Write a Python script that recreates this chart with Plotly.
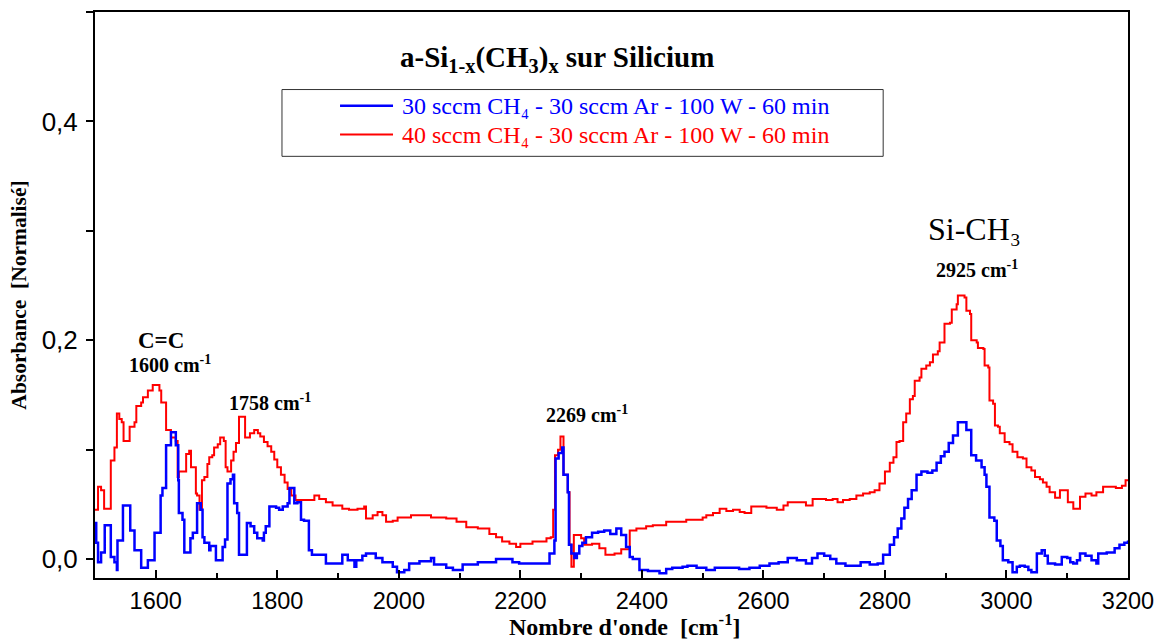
import plotly.graph_objects as go

# ---------------- data ----------------
blue_wn = [1500, 1502, 1505, 1510, 1516, 1526, 1532, 1536, 1537, 1546,
           1558, 1565, 1576, 1587, 1598, 1608, 1611, 1617, 1625, 1633,
           1637, 1638, 1644, 1647, 1657, 1661, 1668, 1674, 1677, 1680,
           1688, 1690, 1699, 1710, 1714, 1718, 1723, 1727, 1729, 1734,
           1737, 1750, 1756, 1762, 1767, 1776, 1778, 1781, 1787, 1798,
           1803, 1809, 1817, 1820, 1828, 1833, 1839, 1844, 1852, 1857,
           1880, 1891, 1907, 1916, 1927, 1930, 1940, 1946, 1962, 1973,
           1990, 1997, 2009, 2017, 2034, 2053, 2058, 2078, 2089, 2105,
           2130, 2160, 2187, 2198, 2243, 2248, 2256, 2258, 2263, 2269,
           2271, 2278, 2280, 2284, 2289, 2293, 2297, 2302, 2308, 2318,
           2328, 2338, 2348, 2358, 2366, 2374, 2380, 2385, 2396, 2410,
           2429, 2440, 2450, 2467, 2475, 2490, 2506, 2520, 2545, 2560,
           2577, 2594, 2610, 2625, 2640, 2655, 2670, 2680, 2689, 2700,
           2710, 2720, 2735, 2750, 2760, 2775, 2788, 2797, 2808, 2815,
           2821, 2827, 2832, 2838, 2844, 2852, 2860, 2870, 2878, 2885,
           2892, 2898, 2905, 2912, 2920, 2934, 2942, 2950, 2959, 2964,
           2967, 2972, 2980, 2984, 2990, 2994, 3003, 3010, 3017, 3022,
           3030, 3036, 3041, 3050, 3058, 3063, 3068, 3080, 3091, 3100,
           3105, 3110, 3116, 3121, 3130, 3140, 3148, 3151, 3165, 3178,
           3186, 3194, 3200]
blue_abs = [0.033, 0.015, -0.003, 0.006, 0.031, 0.002, -0.003, -0.010, 0.017, 0.049,
            0.026, 0.008, -0.008, -0.001, 0.024, 0.058, 0.065, 0.104, 0.116, 0.104,
            0.072, 0.042, 0.036, 0.006, 0.019, 0.024, 0.051, 0.045, 0.020, 0.015,
            0.008, 0.012, -0.001, 0.011, 0.018, 0.069, 0.073, 0.077, 0.051, 0.042,
            0.004, 0.033, 0.030, 0.024, 0.019, 0.017, 0.024, 0.030, 0.048, 0.047,
            0.045, 0.048, 0.051, 0.065, 0.051, 0.052, 0.036, 0.035, 0.008, 0.004,
            -0.004, -0.004, 0.004, -0.001, -0.007, -0.001, 0.003, 0.005, 0.001, -0.003,
            -0.007, -0.012, -0.010, -0.004, -0.002, 0.001, -0.005, -0.008, -0.010, -0.005,
            -0.003, 0.000, -0.003, -0.004, -0.004, 0.005, 0.017, 0.092, 0.097, 0.102,
            0.077, 0.061, 0.013, 0.005, 0.001, 0.005, 0.012, 0.015, 0.020, 0.024,
            0.025, 0.026, 0.023, 0.028, 0.022, 0.011, 0.002, 0.000, -0.010, -0.011,
            -0.013, -0.009, -0.008, -0.007, -0.006, -0.008, -0.010, -0.008, -0.008, -0.009,
            -0.008, -0.006, -0.004, -0.003, 0.001, -0.001, -0.004, 0.001, 0.005, 0.003,
            0.000, -0.004, -0.006, -0.006, -0.003, -0.005, -0.004, 0.004, 0.013, 0.020,
            0.028, 0.037, 0.047, 0.055, 0.063, 0.077, 0.080, 0.079, 0.081, 0.088,
            0.094, 0.098, 0.106, 0.113, 0.125, 0.118, 0.095, 0.090, 0.084, 0.077,
            0.066, 0.038, 0.035, 0.017, 0.012, -0.001, -0.003, -0.012, -0.007, -0.006,
            -0.007, -0.010, -0.012, 0.005, 0.008, 0.003, -0.004, -0.005, 0.002, 0.001,
            -0.003, -0.004, -0.001, 0.005, 0.003, -0.001, -0.004, 0.005, 0.006, 0.010,
            0.013, 0.015, 0.017]

red_wn = [1500, 1505, 1510, 1515, 1526, 1532, 1536, 1540, 1544, 1547,
          1557, 1565, 1568, 1576, 1579, 1587, 1595, 1606, 1609, 1617,
          1625, 1633, 1636, 1638, 1650, 1655, 1658, 1666, 1668, 1672,
          1676, 1680, 1685, 1688, 1693, 1696, 1702, 1706, 1712, 1715,
          1718, 1724, 1728, 1732, 1737, 1745, 1747, 1755, 1762, 1768,
          1772, 1778, 1784, 1790, 1795, 1800, 1806, 1812, 1817, 1823,
          1830, 1847, 1861, 1869, 1880, 1891, 1907, 1918, 1932, 1943,
          1946, 1957, 1965, 1973, 1979, 1990, 1998, 2020, 2036, 2053,
          2078, 2095, 2111, 2130, 2149, 2160, 2170, 2182, 2193, 2200,
          2220, 2243, 2250, 2254, 2257, 2262, 2266, 2271, 2278, 2281,
          2284, 2288, 2300, 2305, 2318, 2330, 2340, 2355, 2366, 2380,
          2391, 2407, 2418, 2440, 2473, 2500, 2506, 2517, 2528, 2539,
          2550, 2561, 2569, 2580, 2605, 2622, 2633, 2640, 2670, 2681,
          2703, 2714, 2722, 2731, 2742, 2753, 2764, 2775, 2783, 2791,
          2800, 2808, 2814, 2819, 2824, 2830, 2835, 2841, 2846, 2849,
          2857, 2860, 2868, 2874, 2879, 2887, 2890, 2898, 2907, 2910,
          2918, 2920, 2931, 2934, 2940, 2942, 2951, 2953, 2962, 2964,
          2970, 2972, 2978, 2981, 2986, 2989, 2997, 3005, 3010, 3018,
          3027, 3033, 3041, 3047, 3055, 3060, 3066, 3071, 3080, 3088,
          3101, 3110, 3121, 3130, 3140, 3148, 3159, 3170, 3180, 3190,
          3196, 3200]
red_abs = [0.045, 0.066, 0.063, 0.046, 0.090, 0.102, 0.133, 0.128, 0.125, 0.108,
           0.121, 0.125, 0.140, 0.143, 0.148, 0.154, 0.159, 0.154, 0.143, 0.118,
           0.111, 0.108, 0.075, 0.080, 0.096, 0.099, 0.084, 0.060, 0.058, 0.045,
           0.072, 0.075, 0.087, 0.093, 0.095, 0.102, 0.105, 0.111, 0.108, 0.084,
           0.080, 0.090, 0.098, 0.106, 0.130, 0.130, 0.111, 0.115, 0.118, 0.115,
           0.112, 0.107, 0.103, 0.098, 0.091, 0.084, 0.077, 0.070, 0.064, 0.058,
           0.054, 0.054, 0.058, 0.055, 0.052, 0.049, 0.046, 0.045, 0.046, 0.048,
           0.037, 0.040, 0.043, 0.040, 0.034, 0.035, 0.038, 0.040, 0.040, 0.038,
           0.037, 0.034, 0.029, 0.028, 0.023, 0.020, 0.016, 0.014, 0.011, 0.014,
           0.016, 0.019, 0.020, 0.045, 0.095, 0.100, 0.112, 0.077, 0.061, 0.013,
           -0.007, 0.022, 0.019, 0.013, 0.014, 0.010, 0.004, 0.005, 0.009, 0.026,
           0.028, 0.030, 0.031, 0.034, 0.036, 0.038, 0.040, 0.042, 0.046, 0.044,
           0.045, 0.043, 0.042, 0.048, 0.047, 0.045, 0.049, 0.052, 0.049, 0.055,
           0.054, 0.055, 0.052, 0.054, 0.055, 0.058, 0.060, 0.061, 0.063, 0.069,
           0.080, 0.088, 0.093, 0.107, 0.108, 0.125, 0.133, 0.146, 0.149, 0.163,
           0.166, 0.174, 0.177, 0.180, 0.187, 0.190, 0.198, 0.215, 0.216, 0.228,
           0.233, 0.241, 0.239, 0.227, 0.224, 0.200, 0.198, 0.193, 0.192, 0.177,
           0.175, 0.145, 0.142, 0.122, 0.121, 0.115, 0.107, 0.105, 0.098, 0.093,
           0.092, 0.084, 0.081, 0.075, 0.073, 0.070, 0.066, 0.061, 0.056, 0.063,
           0.052, 0.046, 0.057, 0.060, 0.058, 0.061, 0.066, 0.066, 0.065, 0.067,
           0.072, 0.072]

series_names = ["30 sccm CH\u2084 - 30 sccm Ar - 100 W - 60 min",
                "40 sccm CH\u2084 - 30 sccm Ar - 100 W - 60 min"]
series_colors = ["#0000ff", "#ff0000"]
x_ticks = [1600, 1800, 2000, 2200, 2400, 2600, 2800, 3000, 3200]
y_ticks = [0.0, 0.2, 0.4]

assert len(blue_wn) == len(blue_abs)
assert len(red_wn) == len(red_abs)

SERIF = "Liberation Serif, Times New Roman, serif"
SANS = "Liberation Sans, Arial, sans-serif"

fig = go.Figure()
fig.add_trace(go.Scatter(
    x=red_wn, y=red_abs, mode="lines", line_shape="hv",
    line=dict(color=series_colors[1], width=2),
    name=series_names[1], showlegend=False))
fig.add_trace(go.Scatter(
    x=blue_wn, y=blue_abs, mode="lines", line_shape="hv",
    line=dict(color=series_colors[0], width=2.5),
    name=series_names[0], showlegend=False))

# legend frame and entries (drawn in paper coordinates)
fig.add_shape(type="rect", xref="paper", yref="paper",
              x0=0.181, x1=0.763, y0=0.745, y1=0.863,
              line=dict(color="#333333", width=1), fillcolor="white", layer="below")
legend_rows_y = [0.8345, 0.7835]
legend_widths = [2.5, 2]
for name, col, ly, lw in zip(series_names, series_colors, legend_rows_y, legend_widths):
    fig.add_shape(type="line", xref="paper", yref="paper",
                  x0=0.2372, x1=0.2885, y0=ly, y1=ly,
                  line=dict(color=col, width=lw))
    fig.add_annotation(xref="paper", yref="paper", x=0.2953, y=ly, text=name,
                       showarrow=False, xanchor="left", yanchor="middle",
                       font=dict(family=SERIF, size=24, color=col))

ann = [
    dict(text="<b>C=C</b>", x=1609, y=0.1995, size=23),
    dict(text="<b>1600 cm<sup>-1</sup></b>", x=1624, y=0.178, size=20),
    dict(text="<b>1758 cm<sup>-1</sup></b>", x=1788, y=0.144, size=20),
    dict(text="<b>2269 cm<sup>-1</sup></b>", x=2310, y=0.133, size=20),
    dict(text="Si-CH\u2083", x=2948, y=0.3016, size=32),
    dict(text="<b>2925 cm<sup>-1</sup></b>", x=2951, y=0.265, size=20),
]
for a in ann:
    fig.add_annotation(x=a["x"], y=a["y"], text=a["text"], showarrow=False,
                       xanchor="center", yanchor="middle",
                       font=dict(family=SERIF, size=a["size"], color="black"))

fig.add_annotation(xref="paper", yref="paper", x=0.447, y=0.917,
                   text="<b>a-Si<sub>1-x</sub>(CH<sub>3</sub>)<sub>x</sub> sur Silicium</b>",
                   showarrow=False, xanchor="center", yanchor="middle",
                   font=dict(family=SERIF, size=29, color="black"))
fig.add_annotation(xref="paper", yref="paper", x=0.513, y=-0.1125,
                   text="<b>Nombre d'onde\u00a0 [cm<sup>-1</sup>]</b>",
                   showarrow=False, xanchor="center", yanchor="bottom",
                   font=dict(family=SERIF, size=24, color="black"))

fig.update_layout(
    width=1168, height=643,
    margin=dict(l=95, r=40, t=10, b=65),
    plot_bgcolor="white", paper_bgcolor="white",
    separators=", ",
    showlegend=False,
    xaxis=dict(range=[1500, 3200], tickvals=x_ticks, ticks="inside", ticklen=8,
               tickwidth=1.5, tickcolor="black", showline=True, linecolor="black",
               linewidth=2, mirror=True, showgrid=False, zeroline=False,
               tickfont=dict(family=SANS, size=23.5, color="black"),
               ticklabelstandoff=1,
               minor=dict(dtick=100, tick0=1500, ticks="inside", ticklen=5,
                          tickwidth=1.5, tickcolor="black", showgrid=False)),
    yaxis=dict(range=[-0.0173, 0.5], tickvals=y_ticks, tickformat=".1f",
               ticks="outside", ticklen=7, tickwidth=1.5, tickcolor="black",
               showline=True, linecolor="black", linewidth=2, mirror=True,
               showgrid=False, zeroline=False,
               tickfont=dict(family=SANS, size=26, color="black"),
               ticklabelstandoff=3,
               title=dict(text="<b>Absorbance\u00a0 [Normalisé]</b>",
                          font=dict(family=SERIF, size=21.5, color="black"),
                          standoff=9),
               minor=dict(dtick=0.1, tick0=0, ticks="outside", ticklen=7,
                          tickwidth=1.5, tickcolor="black", showgrid=False)),
)

fig.write_html("out.html")
